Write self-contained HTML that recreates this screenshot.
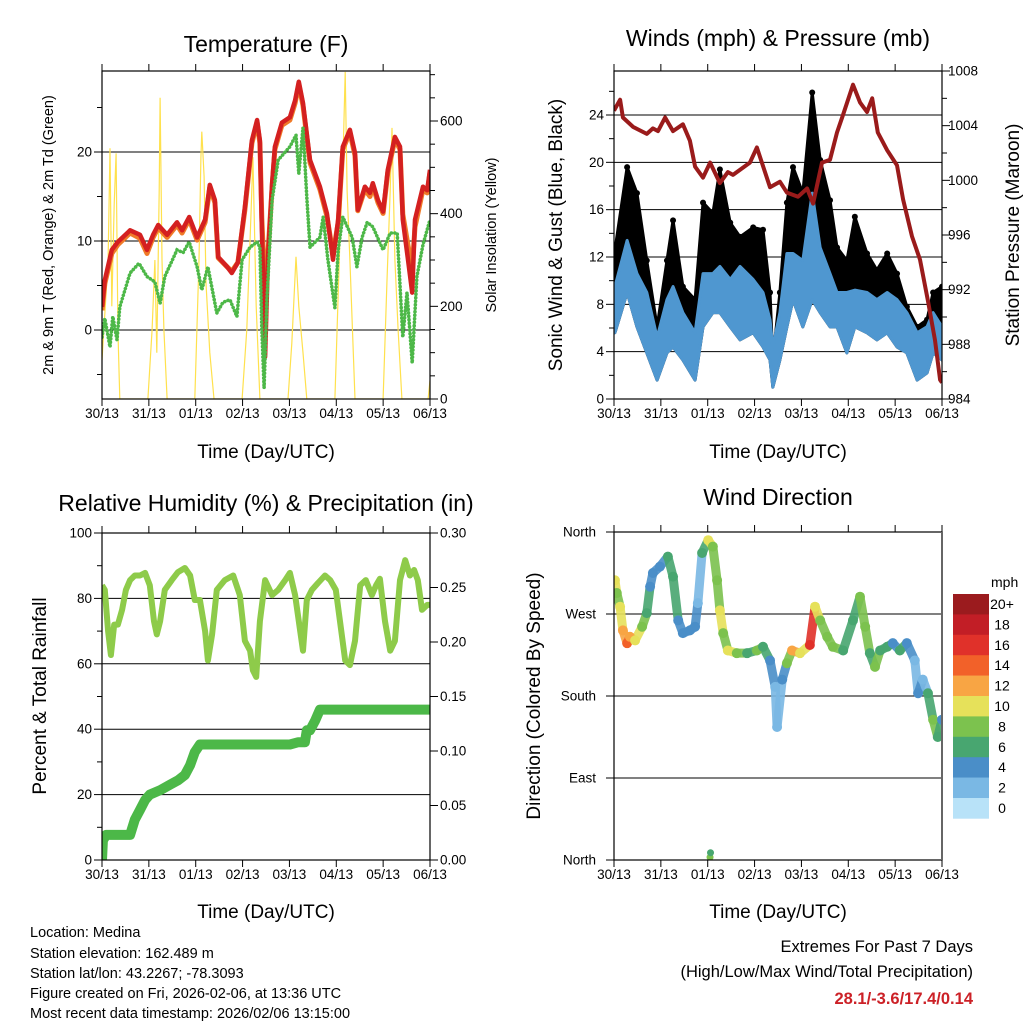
<!DOCTYPE html>
<html><head><meta charset="utf-8"><style>
html,body{margin:0;padding:0;background:#fff}
svg{display:block;font-family:"Liberation Sans",Arial,sans-serif}
</style></head><body>
<svg id="chart" width="1024" height="1024" viewBox="0 0 1024 1024" xmlns="http://www.w3.org/2000/svg">
<defs>
<clipPath id="c1"><rect x="102" y="71" width="328" height="328"/></clipPath>
<clipPath id="c2"><rect x="614" y="71" width="328" height="328"/></clipPath>
<clipPath id="c3"><rect x="102" y="533" width="328" height="327"/></clipPath>
<clipPath id="c4"><rect x="614" y="532" width="328" height="328"/></clipPath>
</defs>
<text x="266" y="52" font-size="23" text-anchor="middle">Temperature (F)</text>
<text x="778" y="46" font-size="23" text-anchor="middle">Winds (mph) &amp; Pressure (mb)</text>
<text x="266" y="511" font-size="23" text-anchor="middle">Relative Humidity (%) &amp; Precipitation (in)</text>
<text x="778" y="505" font-size="23" text-anchor="middle">Wind Direction</text>
<text x="266" y="458" font-size="19" text-anchor="middle">Time (Day/UTC)</text>
<text x="778" y="458" font-size="19" text-anchor="middle">Time (Day/UTC)</text>
<text x="266" y="918" font-size="19" text-anchor="middle">Time (Day/UTC)</text>
<text x="778" y="918" font-size="19" text-anchor="middle">Time (Day/UTC)</text>
<text transform="translate(53,235) rotate(-90)" font-size="14.5" text-anchor="middle">2m &amp; 9m T (Red, Orange) &amp; 2m Td (Green)</text>
<text transform="translate(496,235) rotate(-90)" font-size="14.5" text-anchor="middle">Solar Insolation (Yellow)</text>
<text transform="translate(562,235) rotate(-90)" font-size="19" text-anchor="middle">Sonic Wind &amp; Gust (Blue, Black)</text>
<text transform="translate(1019,235) rotate(-90)" font-size="19" text-anchor="middle">Station Pressure (Maroon)</text>
<text transform="translate(46,696) rotate(-90)" font-size="19" text-anchor="middle">Percent &amp; Total Rainfall</text>
<text transform="translate(540,696) rotate(-90)" font-size="19" text-anchor="middle">Direction (Colored By Speed)</text>
<g font-size="14.5">
<text x="30" y="937">Location: Medina</text>
<text x="30" y="958">Station elevation: 162.489 m</text>
<text x="30" y="978">Station lat/lon: 43.2267; -78.3093</text>
<text x="30" y="998">Figure created on Fri, 2026-02-06, at 13:36 UTC</text>
<text x="30" y="1018">Most recent data timestamp: 2026/02/06 13:15:00</text>
</g>
<text x="973" y="952" font-size="16.5" text-anchor="end">Extremes For Past 7 Days</text>
<text x="973" y="977" font-size="16.5" text-anchor="end">(High/Low/Max Wind/Total Precipitation)</text>
<text x="973" y="1004" font-size="16.5" font-weight="bold" fill="#cc2127" text-anchor="end">28.1/-3.6/17.4/0.14</text>
</svg>
<script>
// ---------- DATA ----------
const dayLabels=['30/13','31/13','01/13','02/13','03/13','04/13','05/13','06/13'];
const tempTicks=[0,10,20];
const solarTicks=[0,200,400,600];
const windTicks=[0,4,8,12,16,20,24];
const pressTicks=[984,988,992,996,1000,1004,1008];
const rhTicks=[0,20,40,60,80,100];
const rainTicks=[0,0.05,0.10,0.15,0.20,0.25,0.30];
const dirTicks=[0,90,180,270,360];
const dirLabels=['North','East','South','West','North'];
const speedBins=['0','2','4','6','8','10','12','14','16','18','20+'];
const speedColors=['#b8e2f8','#7ab8e4','#4a8ec8','#48a670','#7cc24e','#e6e15a','#f8a544','#f26129','#e0312a','#c21e26','#9b1b1e'];

const tTimes=[0,.06,.21,.34,.6,.81,.96,1.09,1.2,1.39,1.6,1.71,1.86,2.03,2.2,2.3,2.41,2.48,2.67,2.77,2.9,3.05,3.2,3.31,3.37,3.41,3.48,3.54,3.63,3.69,3.84,4.01,4.12,4.2,4.29,4.44,4.65,4.8,4.93,5.04,5.14,5.29,5.4,5.46,5.61,5.72,5.78,5.89,6,6.1,6.25,6.36,6.42,6.53,6.62,6.68,6.85,6.94,7];
const temp2m=[2.6,5.6,9,9.9,11.2,10.7,9,10.7,11.8,10.7,12.1,11.2,12.7,10.4,12.4,16.3,14.6,8.2,7.1,6.4,7.6,13.8,21.3,23.6,21.3,11.6,-3,7.9,16.5,20.6,23.3,23.9,25.8,27.9,25.5,19.1,16.1,13.1,7.9,12.4,20.6,22.5,19.9,13.5,16.1,15.4,16.5,14.6,13.3,18,21.7,20.6,12.4,7.9,4.2,12.4,16.1,15.7,18];
const temp9m=[2.2,5.2,8.6,9.6,10.9,10.3,8.6,10.4,11.5,10.4,11.8,10.9,12.4,10.1,12.1,16,14.3,8.1,7.1,6.6,7.6,13.5,21,23.3,21,12.6,4,8.5,16,20.3,23,23.6,25.5,27.6,25.2,18.8,15.8,12.8,8.5,12.1,20.3,22.2,19.6,13.4,15.8,15,16.2,14.3,13.1,17.7,21.4,20.3,13,9.5,7,11.6,15.8,15.4,17.7];
const dTimes=[0,.06,.17,.23,.32,.38,.6,.79,.96,1.13,1.24,1.34,1.6,1.73,1.86,2.03,2.13,2.26,2.45,2.58,2.73,2.88,2.99,3.16,3.31,3.37,3.41,3.46,3.52,3.63,3.76,4.01,4.14,4.2,4.29,4.37,4.44,4.65,4.72,4.82,4.97,5.04,5.14,5.34,5.44,5.55,5.66,5.78,6,6.15,6.3,6.42,6.51,6.62,6.72,6.85,7];
const dewPoint=[-0.8,1.3,-1.9,1.5,-1.1,2.6,6.4,7.5,6,5.4,3,6,9,8.7,9.9,7.1,4.5,7.1,1.9,3.1,3.4,1.5,7.9,9.3,9.9,9.3,0.3,-6.5,3.4,14.6,19.1,20.6,21.9,17.6,22.7,14.9,9.3,10.4,12.7,7.9,2.5,9,12.7,10.4,7.1,10.4,12.1,11.6,9,10.9,10.9,-0.8,4.2,-3.7,6,9.6,12.4];
const sTimes=[0,.13,.17,.21,.26,.3,.34,.38,.98,1.07,1.13,1.17,1.22,1.24,1.28,1.32,1.39,1.98,2.07,2.11,2.13,2.18,2.22,2.3,2.39,2.99,3.09,3.18,3.22,3.29,3.37,3.97,4.05,4.14,4.2,4.29,4.37,4.97,5.08,5.14,5.19,5.23,5.29,5.4,6,6.08,6.15,6.19,6.25,6.32,6.4,6.96,7];
const solar=[84,300,541,200,420,530,150,0,0,150,300,100,450,650,300,150,0,0,300,520,577,480,250,100,0,0,150,400,522,200,0,0,120,307,200,100,0,0,350,500,706,450,300,0,0,250,450,585,300,150,0,0,40];

const wTimes=[.02,.28,.49,.7,.92,1.13,1.26,1.47,1.73,1.9,2.11,2.26,2.48,2.69,2.97,3.18,3.33,3.39,3.54,3.69,3.82,4.03,4.23,4.4,4.61,4.76,4.97,5.14,5.4,5.61,5.83,6.04,6.25,6.47,6.68,6.81,7];
const windLow=[5.6,9,6.1,3.9,1.6,3.9,4.4,3.3,1.6,6.1,7.3,7.3,6.1,5,5.6,4.4,3.3,1,3.3,6.1,8.4,6.1,8.4,7.3,6.1,6.1,3.9,6.1,5.6,5,5.6,4.4,3.9,1.6,2.2,3.9,3.3];
const windHigh=[9.5,13.4,10.6,9,5.2,8.4,9.5,7.3,5.6,10.6,10.6,11.2,10.1,11.2,10.1,9,6.7,4.4,7.3,12.3,12.3,11.7,17.4,12.8,10.6,9,9,9.2,9,8.4,9,8.4,7.3,5.6,6.1,7.3,6.1];
const gustTop=[12.6,19.6,17.4,11.7,6.1,11.7,15.1,9.5,8.4,16.6,15.7,19.4,14.9,13.7,14.5,14.3,9,3.3,9,16.6,19.6,17.4,25.9,20.2,16.8,12.8,11.7,15.4,12.3,10.9,12.3,10.6,7.8,6.1,6.7,9,9.5];
const pTimes=[0,.13,.19,.41,.7,.83,.94,1.09,1.26,1.47,1.62,1.73,1.9,2.05,2.26,2.43,2.54,2.9,3.05,3.33,3.54,3.69,3.93,4.12,4.25,4.44,4.61,4.76,4.89,5.1,5.25,5.4,5.51,5.63,5.83,6.04,6.17,6.36,6.53,6.7,6.85,6.96,7];
const pressure=[1005.1,1005.9,1004.6,1003.9,1003.4,1003.8,1003.6,1004.6,1003.6,1004.1,1002.9,1001,1000.2,1001.3,999.8,1000.6,1000.4,1001.3,1002.4,999.5,999.9,999.1,998.8,999.4,998.3,1001.3,1001.5,1003.5,1004.8,1007,1005.7,1005,1006,1003.5,1002.2,1001.1,998.6,995.9,994.2,991.2,988.3,985.4,985.2];

const hTimes=[0,.06,.13,.19,.26,.34,.43,.51,.6,.7,.81,.92,1.02,1.11,1.17,1.24,1.34,1.49,1.62,1.77,1.88,1.98,2.09,2.2,2.26,2.35,2.45,2.62,2.8,2.94,3.05,3.16,3.22,3.29,3.37,3.48,3.63,3.76,3.91,4.01,4.12,4.23,4.29,4.37,4.48,4.61,4.76,4.87,4.99,5.08,5.19,5.29,5.4,5.51,5.63,5.76,5.85,5.93,6.04,6.15,6.25,6.36,6.47,6.57,6.66,6.74,6.83,6.94,7];
const humidity=[84,82.6,70,62.7,72,72,76.5,82.6,85.6,87,87,87.8,84,73,69,73,82.6,85.6,88,89.3,87,79.5,79.5,70,61,69,82.6,85.6,87,81,67,64,58,56,73,85.6,81,82.6,85.6,87.8,81,70,64,79.5,82.6,84.7,87,85.6,82.6,73,61,59.6,67,84,85.6,81,84,86,73,64,67,85.6,91.7,87,88.7,85.6,76.5,78,78];
const rTimes=[0,.02,.09,.6,.7,.81,.92,1.02,1.24,1.45,1.62,1.77,1.88,1.98,2.09,4.01,4.18,4.33,4.37,4.44,4.55,4.65,7];
const rainfall=[0,.018,.023,.023,.037,.046,.055,.06,.064,.069,.073,.078,.087,.099,.106,.106,.108,.108,.119,.119,.128,.138,.138];

const dirTimes=[.02,.06,.13,.19,.28,.34,.45,.6,.7,.77,.83,.98,1.15,1.26,1.37,1.47,1.62,1.73,1.79,1.88,2.01,2.11,2.2,2.26,2.33,2.43,2.62,2.84,3.05,3.18,3.33,3.44,3.48,3.59,3.69,3.8,3.97,4.18,4.29,4.4,4.55,4.67,4.89,5.1,5.25,5.36,5.46,5.57,5.68,5.83,5.95,6.1,6.25,6.42,6.49,6.59,6.7,6.81,6.91,7];
const direction=[307,293,278,252,238,245,241,256,271,300,315,322,333,311,263,249,252,256,282,337,351,344,307,274,249,230,227,227,230,234,219,190,146,198,216,230,227,236,278,263,245,234,230,263,289,256,227,212,230,234,238,230,238,219,183,198,183,154,135,154];
const dirSpeed=[10,8,10,11,13,11,9,7,5,4,3,4,6,6,4,4,3,4,2,6,9,7,7,9,7,9,7,6,8,6,3,2,2,4,7,12,10,15,10,8,7,8,6,6,8,7,6,8,6,6,4,6,4,2,4,2,6,7,6,4];
const outlierTime=[2.05,2.06];
const outlierDir=[3,8];
const outlierSpeed=[7,6];

// ---------- HELPERS ----------
const NS='http://www.w3.org/2000/svg';
const svg=document.getElementById('chart');
function el(tag,attrs,parent){const e=document.createElementNS(NS,tag);for(const k in attrs)e.setAttribute(k,attrs[k]);(parent||svg).appendChild(e);return e;}
function lin(d0,d1,r0,r1){return v=>r0+(v-d0)*(r1-r0)/(d1-d0);}
function linePath(xs,ys,fx,fy){return xs.map((t,i)=>(i?'L':'M')+fx(t).toFixed(1)+','+fy(ys[i]).toFixed(1)).join('');}
function speedColor(s){let i=Math.round(s/2);if(i>10)i=10;if(i<0)i=0;return speedColors[i];}

const x1=lin(0,7,102,430), yT=lin(0,20,330,152), yS=lin(0,600,399,121);
const x2=lin(0,7,614,942), yW=lin(0,24,399,115), yP=lin(984,1008,399,71);
const x3=lin(0,7,102,430), yH=lin(0,100,860,533), yR=lin(0,0.3,860,533);
const x4=lin(0,7,614,942), yD=lin(0,360,860,532);

function frame(name,L,T,W,H,xf){
  const g=el('g',{});
  
  
  dayLabels.forEach((lab,i)=>{
    const x=xf(i);
    el('line',{x1:x,y1:T+H,x2:x,y2:T+H+7,stroke:'#000','stroke-width':1},g);
    el('line',{x1:x,y1:T,x2:x,y2:T-7,stroke:'#000','stroke-width':1},g);
    const t=el('text',{x:x,y:T+H+19,'font-size':13.5,'text-anchor':'middle'},g);
    
    
    t.textContent=lab;
  });
  return g;
}
function box(L,T,W,H){
  const r=el('rect',{x:L,y:T,width:W,height:H,fill:'none',stroke:'#000','stroke-width':1.2});
  
  
}
function grid(vals,fy,L,R){
  vals.forEach(v=>{const y=fy(v);const g=el('line',{x1:L,y1:y,x2:R,y2:y,stroke:'#000','stroke-width':1});
    
    });
}
function yLabels(vals,labels,fy,x,anchor,tickX,dir){
  vals.forEach((v,i)=>{const y=fy(v);
    el('line',{x1:tickX,y1:y,x2:tickX+dir*8,y2:y,stroke:'#000','stroke-width':1});
    const t=el('text',{x:x,y:y+4.5,'font-size':13.5,'text-anchor':anchor});
    
    
    t.textContent=labels[i];});
}
function minor(vals,fy,tickX,dir){vals.forEach(v=>{const y=fy(v);el('line',{x1:tickX,y1:y,x2:tickX+dir*5,y2:y,stroke:'#000','stroke-width':1});});}

// ---------- PANEL 1: TEMPERATURE ----------
frame('temperature',102,71,328,328,x1);
grid(tempTicks,yT,102,430);
yLabels(tempTicks,tempTicks.map(String),yT,92,'end',102,-1);
minor([-5,5,15,25],yT,102,-1);
yLabels(solarTicks,solarTicks.map(String),yS,440,'start',430,1);
minor([50,100,150,250,300,350,450,500,550,650,700],yS,430,1);
const g1=el('g',{'clip-path':'url(#c1)'});
const solarLine=el('path',{d:linePath(sTimes,solar,x1,yS),fill:'none',stroke:'#ffe14d','stroke-width':1.2},g1);


const t9=el('path',{d:linePath(tTimes,temp9m,x1,yT),fill:'none',stroke:'#f07a28','stroke-width':5,'stroke-linejoin':'round'},g1);


const t2=el('path',{d:linePath(tTimes,temp2m,x1,yT),fill:'none',stroke:'#d42020','stroke-width':4.5,'stroke-linejoin':'round'},g1);


const dw=el('path',{d:linePath(dTimes,dewPoint,x1,yT),fill:'none',stroke:'#4db848','stroke-width':3.6,'stroke-dasharray':'0.1 3.4','stroke-linecap':'round'},g1);


box(102,71,328,328);

// ---------- PANEL 2: WINDS ----------
frame('winds',614,71,328,328,x2);
grid(windTicks.slice(1),yW,614,942);
yLabels(windTicks,windTicks.map(String),yW,604,'end',614,-1);
minor([2,6,10,14,18,22,26],yW,614,-1);
yLabels(pressTicks,pressTicks.map(String),yP,948,'start',942,1);
minor([986,990,994,998,1002,1006],yP,942,1);
const g2=el('g',{'clip-path':'url(#c2)'});
const gustPoly=wTimes.map((t,i)=>x2(t)+','+yW(windLow[i])).concat(wTimes.map((t,i)=>x2(t)+','+yW(gustTop[i])).reverse()).join(' ');
const gp=el('polygon',{points:gustPoly,fill:'#000',stroke:'#000','stroke-width':3,'stroke-linejoin':'round'},g2);


wTimes.forEach((t,i)=>{const c=el('circle',{cx:x2(t),cy:yW(gustTop[i]),r:3,fill:'#000'},g2);
  
  });
const windPoly=wTimes.map((t,i)=>x2(t)+','+yW(windLow[i])).concat(wTimes.map((t,i)=>x2(t)+','+yW(windHigh[i])).reverse()).join(' ');
const wp=el('polygon',{points:windPoly,fill:'#4f97d0',stroke:'#4f97d0','stroke-width':3,'stroke-linejoin':'round'},g2);


const pl=el('path',{d:linePath(pTimes,pressure,x2,yP),fill:'none',stroke:'#9a1b1b','stroke-width':4,'stroke-linejoin':'round'},g2);


box(614,71,328,328);

// ---------- PANEL 3: HUMIDITY ----------
frame('humidity',102,533,328,327,x3);
grid([20,40,60,80],yH,102,430);
yLabels(rhTicks,rhTicks.map(String),yH,92,'end',102,-1);
minor([10,30,50,70,90],yH,102,-1);
yLabels(rainTicks,rainTicks.map(v=>v.toFixed(2)),yR,440,'start',430,1);
const g3=el('g',{'clip-path':'url(#c3)'});
const rl=el('path',{d:linePath(rTimes,rainfall,x3,yR),fill:'none',stroke:'#4cb848','stroke-width':10,'stroke-linejoin':'round','stroke-linecap':'round'},g3);


const hl=el('path',{d:linePath(hTimes,humidity,x3,yH),fill:'none',stroke:'#8ecb4a','stroke-width':6,'stroke-linejoin':'round'},g3);


box(102,533,328,327);

// ---------- PANEL 4: DIRECTION ----------
frame('direction',614,532,328,328,x4);
grid([90,180,270],yD,614,942);
dirTicks.forEach((v,i)=>{const y=yD(v);
  el('line',{x1:614,y1:y,x2:606,y2:y,stroke:'#000','stroke-width':1});
  const t=el('text',{x:596,y:y+4.5,'font-size':13.5,'text-anchor':'end'});
  
  
  t.textContent=dirLabels[i];});
const g4=el('g',{'clip-path':'url(#c4)','stroke-linecap':'round'});
for(let i=0;i<dirTimes.length-1;i++){
  const s=el('line',{x1:x4(dirTimes[i]),y1:yD(direction[i]),x2:x4(dirTimes[i+1]),y2:yD(direction[i+1]),stroke:speedColor(dirSpeed[i]),'stroke-width':9,opacity:0.9},g4);
  
  
}
dirTimes.forEach((t,i)=>{const c=el('circle',{cx:x4(t),cy:yD(direction[i]),r:5,fill:speedColor(dirSpeed[i])},g4);
  
  });
outlierTime.forEach((t,i)=>{const c=el('circle',{cx:x4(t),cy:yD(outlierDir[i]),r:3.5,fill:speedColor(outlierSpeed[i])},g4);
  
  });
box(614,532,328,328);
const rb=el('line',{x1:942,y1:532,x2:942,y2:860,stroke:'#666','stroke-width':2});



// colorbar
const cbT=594, cbH=20.4;
const mph=el('text',{x:991,y:587,'font-size':14});


mph.textContent='mph';
speedBins.forEach((lab,i)=>{const k=speedBins.length-1-i;const y=cbT+i*cbH;
  const r=el('rect',{x:953,y:y,width:36,height:cbH+0.3,fill:speedColors[k]});
  
  
  const t=el('text',{x:1002,y:y+15,'font-size':14,'text-anchor':'middle'});
  
  
  t.textContent=speedBins[k];});
</script>
</body></html>
